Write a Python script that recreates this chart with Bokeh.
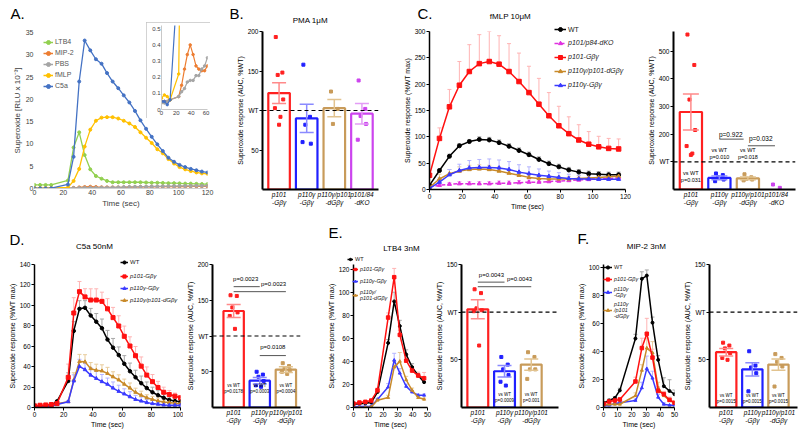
from bokeh.plotting import figure
from bokeh.models import (Range1d, FixedTicker, Span, Label, Legend, LegendItem,
                          Whisker, TeeHead, ColumnDataSource, GridBox)
from bokeh.layouts import row, column
from bokeh.embed import file_html
from bokeh.resources import INLINE

FONT = "Liberation Sans"
PAGE_W, PAGE_H = 798, 434

# ---------------- Panel A (Excel time course) ----------------
a_time = [0, 3.9, 7.7, 11.6, 23.2, 27.1, 31.0, 34.8, 38.7, 42.6, 46.5, 50.3, 54.2, 58.1, 61.9,
          65.8, 69.7, 73.5, 77.4, 81.3, 85.2, 89.0, 92.9, 96.8, 100.6, 104.5, 108.4, 112.3, 116.1, 120.0]
a_ltb4 = [0.8, 0.8, 0.8, 0.8, 1.8, 9.2, 12.6, 7.5, 4.3, 2.8, 2.2, 1.7, 1.4, 1.4, 1.4,
          1.4, 1.4, 1.4, 1.35, 1.3, 1.3, 1.25, 1.2, 1.2, 1.15, 1.1, 1.1, 1.05, 1.0, 1.0]
a_mip2 = [0.05, 0.05, 0.05, 0.06, 0.08, 0.15, 0.25, 0.34, 0.40, 0.34, 0.27, 0.25, 0.24, 0.24, 0.27,
          0.30, 0.33, 0.35, 0.37, 0.38, 0.40, 0.41, 0.42, 0.43, 0.44, 0.45, 0.46, 0.47, 0.48, 0.48]
a_pbs = [0.04, 0.04, 0.05, 0.06, 0.08, 0.11, 0.13, 0.17, 0.18, 0.18, 0.21, 0.21, 0.25, 0.27, 0.32,
         0.35, 0.38, 0.40, 0.42, 0.45, 0.47, 0.50, 0.52, 0.54, 0.56, 0.57, 0.58, 0.60, 0.61, 0.62]
a_fmlp = [0.07, 0.09, 0.08, 0.06, 0.22, 1.7, 4.4, 9.4, 13.2, 15.2, 15.9, 16.0, 16.0, 15.7, 15.2,
          14.6, 13.8, 12.6, 11.4, 10.2, 8.8, 7.9, 6.6, 5.6, 4.8, 4.3, 3.9, 3.6, 3.4, 3.3]
a_c5a = [0.05, 0.05, 0.03, 0.06, 0.9, 7.1, 24.0, 33.2, 31.0, 29.0, 28.0, 25.9, 24.0, 22.5, 20.9,
         19.3, 17.4, 15.3, 13.4, 11.6, 9.9, 8.4, 6.9, 6.0, 5.3, 4.8, 4.4, 4.1, 3.8, 3.6]
a_names = ["LTB4", "MIP-2", "PBS", "fMLP", "C5a"]
a_colors = ["#92d050", "#ed7d31", "#a5a5a5", "#ffc000", "#4472c4"]

# ---------------- Panel C (fMLP) ----------------
c_time = [0, 6.1, 12.2, 18.3, 24.4, 30.5, 36.6, 42.6, 48.7, 54.8, 60.9, 67.0, 73.1, 79.2, 85.3,
          91.4, 97.5, 103.6, 109.7, 115.8]
c_wt = [8, 36, 63, 83, 91, 95, 94, 89, 82, 74, 66, 57, 49, 43, 37, 33, 30, 29, 28, 28]
c_wt_err = [2, 3, 4, 4, 4, 5, 5, 5, 5, 5, 5, 5, 5, 5, 5, 5, 5, 5, 5, 5]
c_dko = [5, 8, 10, 11, 11, 11, 11, 12, 12, 13, 14, 14, 15, 16, 17, 18, 19, 20, 21, 22]
c_dko_err = [2, 3, 3, 4, 4, 4, 4, 4, 4, 4, 4, 4, 4, 4, 4, 4, 4, 4, 4, 4]
c_p101 = [27, 97, 157, 198, 224, 239, 243, 238, 224, 205, 184, 162, 140, 121, 106, 94, 86, 81, 78, 77]
c_p101_err = [0, 20, 33, 45, 51, 55, 57, 54, 53, 54, 50, 49, 44, 37, 32, 29, 24, 20, 19, 19]
c_dgb = [4, 20, 30, 35, 38, 39, 38, 35, 31, 27, 23, 21, 20, 20, 20, 21, 22, 23, 24, 25]
c_dgb_err = [3, 9, 8, 8, 8, 8, 8, 8, 7, 7, 6, 6, 5, 5, 5, 5, 5, 5, 5, 5]
c_gb = [2, 14, 28, 36, 41, 42, 42, 41, 38, 33, 30, 27, 25, 23, 21, 20, 20, 19.5, 19.5, 19.5]
c_gb_err = [2, 8, 10, 12, 14, 15, 16, 15, 15, 14, 13, 12, 10, 9, 8, 7, 6, 6, 6, 6]

# ---------------- Panel D (C5a) ----------------
d_time = [0, 3.8, 7.7, 11.5, 15.4, 23.1, 26.9, 30.8, 34.6, 38.5, 42.3, 46.2, 50.0, 53.8, 57.7,
          61.5, 65.4, 69.2, 73.1, 76.9, 80.8, 84.6, 88.5, 92.3, 96.2, 100.0]
d_wt = [0.6, 1, 1.5, 2, 6, 26, 75, 96.6, 97.6, 90, 84, 77.6, 66.5, 58.6, 51.3,
        42.8, 35.5, 29.5, 23.8, 19, 14.9, 12, 9.5, 7.3, 6.3, 5.7]
d_wt_err = [0.5, 0.5, 0.5, 0.5, 1, 8, 9, 8, 7, 7, 8, 9, 9, 9, 8, 8, 8, 7, 7, 6, 5, 5, 4, 3, 3, 2]
d_p101 = [1.6, 2.2, 2.5, 2.9, 3.8, 29.5, 92.5, 113.4, 108.3, 105.2, 105.2, 103.9, 96.6, 88, 79.8,
          69.7, 60.2, 50.7, 40.5, 31.7, 25.3, 19.6, 14.9, 12.7, 11.1, 9.5]
d_p101_err = [1, 1, 1, 1, 1, 13, 15, 10, 8, 11, 11, 9, 10, 10, 10, 10, 9, 9, 9, 8, 7, 6, 5, 4, 3, 2]
d_gb = [1, 1, 1.2, 1.5, 3, 5.7, 26, 40.2, 37, 31.7, 28.5, 25.3, 22.8, 19, 15.8,
        13.3, 10.5, 7.9, 6.3, 4.8, 3.8, 3.2, 2.5, 2.2, 2.2, 2.2]
d_gb_err = [0.5, 0.5, 0.5, 0.5, 1, 1, 6, 7, 6, 7, 7, 7, 6, 6, 6, 5, 5, 4, 4, 3, 3, 2, 2, 2, 1, 1]
d_dgb = [1.5, 1.5, 1.5, 1.8, 3.8, 5.7, 27, 45, 44.7, 38, 36.4, 35.8, 33.3, 30, 27,
         22.8, 19, 14.9, 12, 9.5, 7.9, 6.3, 5.4, 4.8, 4.1, 3.8]
d_dgb_err = [0.5, 0.5, 0.5, 0.5, 1, 1, 7, 7, 7, 6, 6, 6, 6, 5, 5, 5, 5, 4, 4, 3, 3, 3, 2, 2, 2, 1]

# ---------------- Panel E (LTB4) ----------------
e_time = [0, 4, 8, 12, 16.2, 23.4, 27.5, 31.3, 35.6, 39.6, 43.7, 47.7]
e_wt = [2.9, 3.2, 3.6, 4.3, 13.4, 56, 92, 70.6, 46, 35, 27.7, 22]
e_wt_err = [0.5, 0.5, 0.5, 1, 2, 3, 8, 5, 4, 3, 2, 2]
e_p101 = [3.4, 4.3, 4.9, 6, 14.9, 78, 113, 63, 40.6, 32, 27.7, 25.4]
e_p101_err = [0.5, 0.5, 1, 1, 2, 4, 7.6, 4, 3, 3, 3, 5]
e_gb = [0.6, 0.8, 0.9, 1, 7, 17.7, 41, 29.7, 18.3, 13.4, 10.6, 10.6]
e_gb_err = [0.3, 0.3, 0.3, 0.5, 1, 3, 6, 4, 2, 1, 1, 1]
e_dgb = [0, 0, 0.2, 0.5, 6.3, 8.6, 35, 40, 24, 14.9, 8.6, 7.1]
e_dgb_err = [0.3, 0.3, 0.3, 0.5, 1, 2, 5, 7.7, 3, 2, 1, 1]

# ---------------- Panel F (MIP-2) ----------------
f_time = [0, 4, 8, 11.5, 22.5, 27, 30.5, 34.5, 38.5, 42.5, 46.5, 50]
f_wt = [3.2, 5, 6.8, 12.2, 49.2, 91.8, 94.1, 60.5, 34, 15.2, 11.8, 9.5]
f_wt_err = [0.5, 1, 1, 1.5, 3, 5, 4, 4, 3, 6, 8, 3]
f_p101 = [2.7, 4.3, 5, 5.7, 18.6, 42.4, 52.6, 35.6, 11.8, 9.5, 5.4, 3.4]
f_p101_err = [0.5, 0.5, 0.5, 1, 3, 7, 11, 6, 3, 2, 2, 1]
f_gb = [1.1, 1.6, 2.7, 3.4, 5, 14, 27.7, 20.9, 7.3, 2.3, 1.6, 1.6]
f_gb_err = [0.3, 0.3, 0.3, 0.5, 1, 4, 9, 5, 2, 1, 0.5, 0.5]
f_dgb = [1.6, 2.3, 2.3, 2.3, 8.4, 26.5, 42.4, 39, 14, 8.4, 5, 3.4]
f_dgb_err = [0.3, 0.5, 0.5, 0.5, 2, 4, 7, 8, 4, 3, 2, 1]

# ---------------- AUC bar panels ----------------
cats4 = ["p101\n-Gβγ", "p110γ\n-Gβγ", "p110γ/p101\n-dGβγ", "p101/84\n-dKO"]
cats3 = ["p101\n-Gβγ", "p110γ\n-Gβγ", "p110γ/p101\n-dGβγ"]

b_mean = [122, 90, 103, 96]
b_sem = [13, 18, 11, 13]
b_pts = [[193, 148, 145, 114, 103, 92, 82], [158, 92, 82, 58, 60], [124, 102, 83], [138, 102, 93, 83, 63]]

cb_mean = [280, 42, 40, None]
cb_sem = [65, 7, 5, None]
cb_pts = [[560, 450, 325, 215, 157, 130, 125], [58, 52, 44, 36, 30], [55, 44, 39, 36, 33], [18, 6]]

db_mean = [135, 37.5, 53]
db_sem = [9, 4.5, 4]
db_pts = [[157, 156, 140, 133, 128, 110], [50, 46, 43, 37, 31, 29], [62, 58, 55, 52, 50, 47]]

eb_mean = [103, 38, 45]
eb_sem = [10, 6, 6]
eb_pts = [[124, 120, 104, 102, 101, 65], [53, 45, 40, 34, 27, 23], [58, 53, 40, 40, 30]]

fb_mean = [58, 40, 45]
fb_sem = [4, 7, 6]
fb_pts = [[68, 65, 62, 57, 52, 50], [59, 44, 42, 36, 17], [56, 52, 48, 43, 22]]

BAR_COL = ["#ff2020", "#2020ff", "#c89b5a", "#cc44ee"]
ERR_COL = ["#ff8a8a", "#8a8aff", "#e2c38f", "#e39cf5"]
JIT = [-0.12, 0.12, -0.05, 0.15, -0.15, 0.05, 0.0]

WT_C, P101_C, GB_C, DGB_C, DKO_C = "black", "#ff1010", "#3a3aff", "#c88a2a", "#e030e0"
WT_E, P101_E, GB_E, DGB_E, DKO_E = "#a8a8a8", "#ffb4b4", "#b4b4ff", "#e8cc9c", "#f0a8f0"


def make_fig(x0, y0, w, h, fl, fr, ft, fb, xr, yr):
    p = figure(width=w, height=h, x_range=Range1d(xr[0], xr[1]), y_range=Range1d(yr[0], yr[1]),
               output_backend="svg", toolbar_location=None,
               min_border_left=fl - x0, min_border_right=x0 + w - fr,
               min_border_top=ft - y0, min_border_bottom=y0 + h - fb)
    p.title.visible = False
    p.grid.visible = False
    p.outline_line_color = None
    return p


def style_axes(p, xticks, yticks, xover=None, yover=None, xlab=None, ylab=None,
               tick_font="6.5px", lab_font="7px", xitalic=False, x_tick_out=3, lw=1.5,
               color="black", label_color="black", tick_out=3):
    xa, ya = p.xaxis[0], p.yaxis[0]
    xa.ticker = FixedTicker(ticks=xticks)
    ya.ticker = FixedTicker(ticks=yticks)
    if xover:
        xa.major_label_overrides = xover
    if yover:
        ya.major_label_overrides = yover
    for ax in (xa, ya):
        ax.axis_line_color = color
        ax.axis_line_width = lw
        ax.major_tick_line_color = color
        ax.major_tick_line_width = 1
        ax.major_tick_in = 0
        ax.major_tick_out = tick_out
        ax.minor_tick_line_color = None
        ax.major_label_text_font = FONT
        ax.major_label_text_font_size = tick_font
        ax.major_label_text_color = label_color
        ax.major_label_standoff = 1
        ax.axis_label_text_font = FONT
        ax.axis_label_text_font_size = lab_font
        ax.axis_label_text_font_style = "normal"
        ax.axis_label_text_color = label_color
        ax.axis_label_standoff = 1
    xa.axis_label = xlab
    ya.axis_label = ylab
    xa.major_tick_out = x_tick_out
    if xitalic:
        xa.major_label_text_font_style = "italic"


def dtext(p, x, y, text, size="5px", color="black"):
    p.add_layout(Label(x=x, y=y, text=text, text_font=FONT, text_font_size=size,
                       text_align="center", text_baseline="middle", text_color=color))


def series(p, t, y, err, color, ecolor, marker, size, dash="solid", lw=1.5):
    src = ColumnDataSource(dict(x=t, lo=y, hi=[a + b for a, b in zip(y, err)]))
    p.add_layout(Whisker(source=src, base="x", lower="lo", upper="hi", line_color=ecolor,
                         line_width=1, level="underlay",
                         upper_head=TeeHead(size=4, line_color=ecolor, line_width=1),
                         lower_head=None))
    p.line(t, y, line_color=color, line_width=lw, line_dash=dash)
    p.scatter(t, y, marker=marker, size=size, fill_color=color, line_color=color)


def bar_panel(geom, xr, ymax, yticks, cats, means, sems, pts, cap=14, bw=0.78):
    p = make_fig(*geom, xr, (0, ymax))
    xs = [i for i, m in enumerate(means) if m is not None]
    p.vbar(x=xs, top=[means[i] for i in xs], bottom=0, width=bw, fill_color=None,
           line_color=[BAR_COL[i] for i in xs], line_width=2.2)
    for i in xs:
        src = ColumnDataSource(dict(x=[i], lo=[means[i] - sems[i]], hi=[means[i] + sems[i]]))
        p.add_layout(Whisker(source=src, base="x", lower="lo", upper="hi", line_color=ERR_COL[i],
                             line_width=1.5, level="annotation",
                             upper_head=TeeHead(size=cap, line_color=ERR_COL[i], line_width=1.5),
                             lower_head=TeeHead(size=cap, line_color=ERR_COL[i], line_width=1.5)))
    for i, vals in enumerate(pts):
        px = [i + JIT[k % len(JIT)] for k in range(len(vals))]
        p.scatter(px, vals, marker="square", size=3, color=BAR_COL[i])
    p.add_layout(Span(location=100, dimension="width", line_color="black", line_dash="4 3",
                      line_width=1.2))
    style_axes(p, list(range(len(cats))), yticks, xover={i: c for i, c in enumerate(cats)},
               yover={100: "WT"}, ylab="Superoxide response (AUC, %WT)", xitalic=True,
               x_tick_out=0, lw=2, tick_font="6.5px", lab_font="7px")
    return p


# ---------- transparent overlay for panel letters, titles and legends (page coordinates) ----------
ov = figure(width=PAGE_W, height=PAGE_H, x_range=Range1d(0, PAGE_W), y_range=Range1d(PAGE_H, 0),
            output_backend="svg", toolbar_location=None, x_axis_type=None, y_axis_type=None,
            min_border_left=0, min_border_right=0, min_border_top=0, min_border_bottom=0)
ov.title.visible = False
ov.grid.visible = False
ov.outline_line_color = None
ov.background_fill_color = None
ov.border_fill_color = None


def otext(x, y, text, size, align="left"):
    ov.add_layout(Label(x=x, y=y, text=text, text_font=FONT, text_font_size=size,
                        text_align=align, text_baseline="middle", text_color="black"))


def olegend(items, x, y_bottom, size, italic, glyph_w, h, spacing=0, text_color="#222222"):
    # legend key renderers sit off-canvas; only their legend samples are visible
    leg_items = []
    for lbl, col, mk, ms, dash in items:
        rl = ov.line([-50, -40], [-50, -50], line_color=col, line_width=1.5, line_dash=dash)
        rs = ov.scatter([-50], [-50], marker=mk, size=ms, fill_color=col, line_color=col)
        leg_items.append(LegendItem(label=lbl, renderers=[rl, rs]))
    leg = Legend(items=leg_items, location=(x, PAGE_H - y_bottom), orientation="vertical",
                 padding=0, margin=0, spacing=spacing, glyph_width=glyph_w, glyph_height=h,
                 label_height=h, label_width=5, label_standoff=2, label_text_font=FONT,
                 label_text_font_size=size, label_text_font_style="italic" if italic else "normal",
                 label_text_color=text_color, background_fill_alpha=0, border_line_alpha=0)
    ov.add_layout(leg)


# ======================= Row 1 (y 0..213) =======================
pA = make_fig(0, 0, 214, 213, 34, 207, 32, 188, (0, 120), (0, 35))
a_series = [a_ltb4, a_mip2, a_pbs, a_fmlp, a_c5a]
for ys, c in zip(a_series, a_colors):
    pA.line(a_time, ys, line_color=c, line_width=1.3)
    pA.scatter(a_time, ys, marker="circle", size=3, color=c)
style_axes(pA, [0, 20, 40, 60, 80, 100, 120], [0, 5, 10, 15, 20, 25, 30, 35],
           xlab="Time (sec)", ylab="Superoxide [RLU x 10⁻³]", tick_font="7px", lab_font="8px",
           color="#d0d0d0", label_color="#404040", tick_out=0, x_tick_out=0, lw=1)
pA.yaxis[0].axis_line_color = None

pI = make_fig(146, 22, 64, 96, 161, 207, 25, 109, (0, 62), (0, 0.52))
for ys, c in zip(a_series, a_colors):
    pI.line(a_time, ys, line_color=c, line_width=1.2)
    pI.scatter(a_time, ys, marker="circle", size=2.5, color=c)
style_axes(pI, [0, 20, 40, 60], [0, 0.1, 0.2, 0.3, 0.4, 0.5], tick_font="6px",
           color="#c8c8c8", label_color="#404040", tick_out=0, x_tick_out=0, lw=1)
pI.styles = {"outline": "1px solid #c4c4c4", "outline-offset": "-1px"}

gridA = GridBox(children=[(pA, 0, 0, 3, 3), (pI, 1, 1, 1, 1)],
                rows=["22px", "96px", "95px"], cols=["146px", "64px", "4px"])

pB = bar_panel((214, 0, 166, 213, 262, 378, 30, 189), (-0.6, 3.6), 200, [50, 100, 150, 200],
               cats4, b_mean, b_sem, b_pts)

pC = make_fig(380, 0, 258, 213, 429, 625, 31, 190, (0, 120), (0, 300))
series(pC, c_time, c_dko, c_dko_err, DKO_C, DKO_E, "triangle", 4, dash="4 2")
series(pC, c_time, c_wt, c_wt_err, WT_C, WT_E, "circle", 4)
series(pC, c_time, c_dgb, c_dgb_err, DGB_C, DGB_E, "triangle", 4)
series(pC, c_time, c_gb, c_gb_err, GB_C, GB_E, "triangle", 4)
series(pC, c_time, c_p101, c_p101_err, P101_C, P101_E, "square", 4.5)
style_axes(pC, [0, 20, 40, 60, 80, 100, 120], [0, 50, 100, 150, 200, 250, 300],
           xlab="Time (sec)", ylab="Superoxide response (%WT max)")

pCb = bar_panel((638, 0, 160, 213, 673, 795, 30, 190), (-0.61, 3.67), 571,
                [100, 200, 300, 400, 500], cats4, cb_mean, cb_sem, cb_pts, cap=16)
dtext(pCb, 0, 48, "vs WT\np=0.031", "5.5px")
dtext(pCb, 1, 130, "vs WT\np=0.010", "5.5px")
dtext(pCb, 2, 130, "vs WT\np=0.018", "5.5px")
pCb.segment(x0=[1.0, 2.0], y0=[182, 158], x1=[1.85, 2.95], y1=[182, 158], line_color="#555555", line_width=1)
dtext(pCb, 1.4, 200, "p=0.922", "6.5px")
dtext(pCb, 2.45, 186, "p=0.032", "6.5px")

# ======================= Row 2 (y 213..434) =======================
pD = make_fig(0, 213, 183, 221, 34, 180, 259, 407, (0, 100), (0, 140))
series(pD, d_time, d_wt, d_wt_err, WT_C, WT_E, "circle", 3.5)
series(pD, d_time, d_dgb, d_dgb_err, DGB_C, DGB_E, "triangle", 3.5)
series(pD, d_time, d_gb, d_gb_err, GB_C, GB_E, "triangle", 3.5)
series(pD, d_time, d_p101, d_p101_err, P101_C, P101_E, "square", 4)
style_axes(pD, [0, 20, 40, 60, 80, 100], [0, 20, 40, 60, 80, 100, 120, 140],
           xlab="Time (sec)", ylab="Superoxide response (%WT max)")

pDb = bar_panel((183, 213, 121, 221, 204, 300, 258, 407), (-0.81, 2.56), 200,
                [50, 100, 150, 200], cats3, db_mean, db_sem, db_pts)
for i, t in enumerate(["vs WT\np=0.0178", "vs WT\np=0.0003", "vs WT\np=0.0004"]):
    dtext(pDb, i, 26, t, "4.5px")
pDb.segment(x0=[0, 0, 1], y0=[169, 162, 72.6], x1=[1, 2, 2], y1=[169, 162, 72.6],
            line_color="#555555", line_width=1)
dtext(pDb, 0.46, 180, "p=0.0023", "6px")
dtext(pDb, 1.53, 173, "p=0.0023", "6px")
dtext(pDb, 1.5, 85, "p=0.0108", "6px")

pE = make_fig(304, 213, 128, 221, 353, 427, 264, 409, (0, 50), (0, 124))
series(pE, e_time, e_wt, e_wt_err, WT_C, WT_E, "circle", 3)
series(pE, e_time, e_gb, e_gb_err, GB_C, GB_E, "triangle", 3)
series(pE, e_time, e_dgb, e_dgb_err, DGB_C, DGB_E, "triangle", 3)
series(pE, e_time, e_p101, e_p101_err, P101_C, P101_E, "square", 3.5)
style_axes(pE, [0, 10, 20, 30, 40, 50], [0, 20, 40, 60, 80, 100, 120],
           xlab="Time (sec)", ylab="Superoxide response (%WT max)")

pEb = bar_panel((432, 213, 130, 221, 457, 558, 262, 409), (-0.61, 3.02), 150,
                [50, 100, 150], cats3, eb_mean, eb_sem, eb_pts)
dtext(pEb, 1, 11, "vs WT\np=0.0009", "4.5px")
dtext(pEb, 2, 11, "vs WT\np=0.001", "4.5px")
pEb.segment(x0=[0, 0], y0=[131.5, 126.7], x1=[1, 2], y1=[131.5, 126.7], line_color="#555555", line_width=1)
dtext(pEb, 0.51, 139.5, "p=0.0043", "6px")
dtext(pEb, 1.56, 135, "p=0.0043", "6px")

pF = make_fig(562, 213, 118, 221, 603, 674, 259, 409, (0, 50), (0, 102))
series(pF, f_time, f_wt, f_wt_err, WT_C, WT_E, "circle", 3)
series(pF, f_time, f_gb, f_gb_err, GB_C, GB_E, "triangle", 3)
series(pF, f_time, f_dgb, f_dgb_err, DGB_C, DGB_E, "triangle", 3)
series(pF, f_time, f_p101, f_p101_err, P101_C, P101_E, "square", 3.5)
style_axes(pF, [0, 10, 20, 30, 40, 50], [0, 20, 40, 60, 80, 100],
           xlab="Time (sec)", ylab="Superoxide response (%WT max)")

pFb = bar_panel((680, 213, 118, 221, 702, 797, 260, 409), (-0.64, 2.73), 150,
                [50, 100, 150], cats3, fb_mean, fb_sem, fb_pts)
for i in range(3):
    dtext(pFb, i, 9, "vs WT\np=0.0015", "4.5px")

# ---------- overlay texts & legends ----------
otext(10, 13, "A.", "15px")
otext(229, 13, "B.", "15px")
otext(311, 20, "PMA  1μM", "8px", "center")
otext(417, 13, "C.", "15px")
otext(511, 16, "fMLP  10μM", "8px", "center")
otext(9, 239, "D.", "15px")
otext(95, 246, "C5a  50nM", "8px", "center")
otext(328, 232, "E.", "15px")
otext(402, 248, "LTB4  3nM", "8px", "center")
otext(577, 238, "F.", "15px")
otext(648, 246, "MIP-2   3nM", "8px", "center")

olegend([(n, c, "circle", 3, "solid") for n, c in zip(a_names, a_colors)], 43, 90.5, "7px", False,
        10, 10, 1, text_color="#555555")

olegend([("WT", WT_C, "circle", 4, "solid")], 554, 34, "7px", False, 12, 10)
olegend([("p101/p84-dKO", DKO_C, "triangle", 4, "4 2"), ("p101-Gβγ", P101_C, "square", 4.5, "solid"),
         ("p110γ/p101-dGβγ", DGB_C, "triangle", 4, "solid"), ("p110γ-Gβγ", GB_C, "triangle", 4, "solid")],
        554, 89.7, "7px", True, 12, 10, 4)

olegend([("WT", WT_C, "circle", 3.5, "solid")], 120, 266, "6px", False, 8, 8)
olegend([("p101-Gβγ", P101_C, "square", 4, "solid"), ("p110γ-Gβγ", GB_C, "triangle", 3.5, "solid"),
         ("p110γ/p101-dGβγ", DGB_C, "triangle", 3.5, "solid")], 120, 303.5, "6px", True, 8, 8, 4)

olegend([("WT", WT_C, "circle", 3, "solid")], 347, 263, "5.5px", False, 6, 8)
olegend([("p101-Gβγ", P101_C, "square", 3.5, "solid"), ("p110γ-Gβγ", GB_C, "triangle", 3, "solid")],
        352, 285, "5.5px", True, 6, 8, 4)
olegend([("p110γ/\np101-dGβγ", DGB_C, "triangle", 3, "solid")], 352, 301, "5.5px", True, 6, 8)

olegend([("WT", WT_C, "circle", 3, "solid")], 603, 271.3, "5.5px", False, 9, 8)
olegend([("p101-Gβγ", P101_C, "square", 3.5, "solid")], 603, 283.3, "5.5px", True, 9, 8)
olegend([("p110γ\n-Gβγ", GB_C, "triangle", 3, "solid")], 603, 297.5, "5.5px", True, 9, 8)
olegend([("p110γ\n/p101\n-dGβγ", DGB_C, "triangle", 3, "solid")], 603, 319, "5.5px", True, 9, 8)

main = column(row(gridA, pB, pC, pCb), row(pD, pDb, pE, pEb, pF, pFb))
page = GridBox(children=[(main, 0, 0), (ov, 0, 0)])
open("out.html", "w").write(file_html(page, INLINE))
